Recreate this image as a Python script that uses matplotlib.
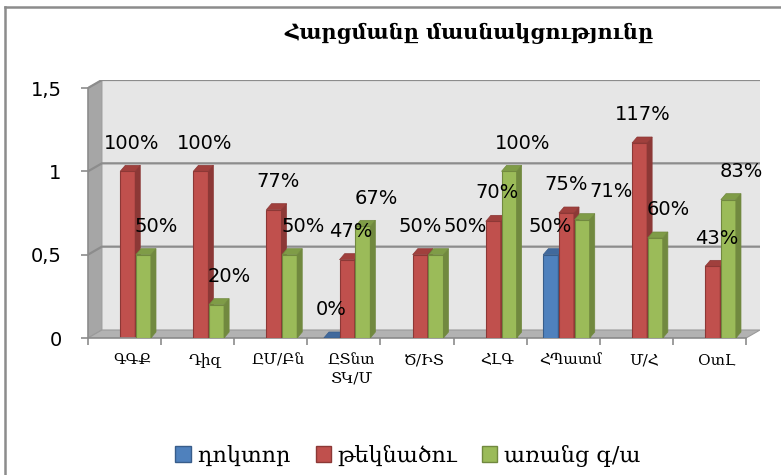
import numpy as np
import matplotlib
matplotlib.use("Agg")
import matplotlib.pyplot as plt
from matplotlib.patches import Polygon, Patch
from matplotlib.lines import Line2D

categories = ['ԳԳՔ', 'Դիզ', 'ԸՄ/Բն', 'ԸՏնտ\nՏԿ/Մ', 'Ծ/ԻՏ', 'ՀԼԳ', 'ՀՊատմ', 'Մ/Հ', 'ՕտԼ']
doctor = [np.nan, np.nan, np.nan, 0.0, np.nan, np.nan, 0.5, np.nan, np.nan]
candidate = [1.0, 1.0, 0.77, 0.47, 0.5, 0.7, 0.75, 1.17, 0.43]
no_degree = [0.5, 0.2, 0.5, 0.67, 0.5, 1.0, 0.71, 0.6, 0.83]
series_names = ['դոկտոր', 'թեկնածու', 'առանց գ/ա']
yticks = [0, 0.5, 1, 1.5]
ytick_labels = ['0', '0,5', '1', '1,5']
title = 'Հարցմանը մասնակցությունը'

front = ['#4f81bd', '#c0504d', '#9bbb59']
side = ['#385d8a', '#8c3836', '#71893f']
top_c = ['#41699c', '#a0403d', '#7f9c47']

serif = ['DejaVu Serif', 'DejaVu Sans']

W, H = 781, 475
fig = plt.figure(figsize=(W / 100, H / 100), dpi=100)

# wall depth (3d look) in data units
DX, DY = 0.19, 0.048
n = len(categories)
ax = fig.add_axes([88 / W, 1 - 338 / H, (760 - 88) / W, (338 - 80) / H])
ax.set_xlim(-0.5, n - 0.5 + DX)
ax.set_ylim(0, 1.5 + DY)

# back wall, left wall, floor
x0, x1 = -0.5, n - 0.5
ax.add_patch(Polygon([(x0 + DX, DY), (x1 + DX, DY), (x1 + DX, 1.5 + DY), (x0 + DX, 1.5 + DY)],
                     closed=True, fc='#e6e6e6', ec='none', zorder=0))
ax.add_patch(Polygon([(x0, 0), (x0 + DX, DY), (x0 + DX, 1.5 + DY), (x0, 1.5)],
                     closed=True, fc='#a6a6a6', ec='#9a9a9a', lw=0.8, zorder=0.5))
ax.add_patch(Polygon([(x0, 0), (x1, 0), (x1 + DX, DY), (x0 + DX, DY)],
                     closed=True, fc='#b2b2b2', ec='#9a9a9a', lw=0.8, zorder=0.5))
for v in yticks[1:]:
    ax.plot([x0, x0 + DX, x1 + DX], [v, v + DY, v + DY], color='#8c8c8c', lw=1.6, zorder=0.6)

# bars
offsets = [-0.275, -0.06, 0.155]
bw = 0.205
bdx, bdy = 0.07, 0.036
xs = np.arange(n)
all_vals = [doctor, candidate, no_degree]
z = 2
for i in range(n):
    for s, vals in enumerate(all_vals):
        v = vals[i]
        if np.isnan(v):
            continue
        left = xs[i] + offsets[s]
        ax.bar(left, v, width=bw, align='edge', color=front[s], edgecolor=side[s], lw=0.8, zorder=z)
        ax.add_patch(Polygon([(left + bw, 0), (left + bw + bdx, bdy), (left + bw + bdx, v + bdy), (left + bw, v)],
                             closed=True, fc=side[s], ec=side[s], lw=0.5, zorder=z))
        ax.add_patch(Polygon([(left, v), (left + bdx, v + bdy), (left + bw + bdx, v + bdy), (left + bw, v)],
                             closed=True, fc=top_c[s], ec=side[s], lw=0.5, zorder=z))
        z += 1

# value labels
lab_dx = [0.0, 0.05, 0.18]
for i in range(n):
    pos = {}
    for s, vals in enumerate(all_vals):
        v = vals[i]
        if np.isnan(v):
            continue
        pos[s] = [xs[i] + offsets[s] + bw / 2 + lab_dx[s], v + 0.17]
    if 1 in pos and 2 in pos and abs(pos[1][1] - pos[2][1]) < 0.08:
        pos[1][0] -= 0.05
        pos[2][0] += 0.22
    for s, (lx, ly) in pos.items():
        ax.text(lx, ly, f"{round(all_vals[s][i] * 100)}%", ha='center', va='center',
                fontsize=14, color='black', zorder=50)

# axes styling
for sp in ['top', 'right']:
    ax.spines[sp].set_visible(False)
ax.spines['left'].set_color('#8c8c8c')
ax.spines['bottom'].set_color('#8c8c8c')
ax.spines['left'].set_linewidth(1.2)
ax.spines['bottom'].set_linewidth(1.2)
ax.spines['left'].set_bounds(0, 1.5)
ax.spines['bottom'].set_bounds(x0, x1)
ax.set_yticks(yticks)
ax.set_yticklabels(ytick_labels, fontsize=14)
ax.tick_params(axis='y', length=5, width=1.2, color='#8c8c8c', pad=14)
ax.set_xticks(xs + 0.1)
ax.set_xticklabels(categories, fontsize=11, family=serif, linespacing=1.35)
ax.tick_params(axis='x', length=0, pad=11)
ax.set_xticks(np.arange(n + 1) - 0.5, minor=True)
ax.tick_params(axis='x', which='minor', length=5, width=1.2, color='#8c8c8c')

fig.text(469 / W, 1 - 33 / H, title, ha='center', va='center', fontsize=15,
         fontweight='bold', family=serif)

handles = [Patch(facecolor=front[k], edgecolor=side[k], label=series_names[k]) for k in range(3)]
fig.legend(handles=handles, loc='center', bbox_to_anchor=(408 / W, 1 - 456 / H), ncol=3,
           frameon=False, prop={'family': serif, 'size': 16}, handlelength=0.7,
           handleheight=0.7, handletextpad=0.3, columnspacing=1.1)

# outer chart frame (cut off at right and bottom)
fig.add_artist(Line2D([5 / W, 5 / W], [0, 1 - 7 / H], color='#8c8c8c', lw=1.8))
fig.add_artist(Line2D([5 / W, 1], [1 - 7 / H, 1 - 7 / H], color='#8c8c8c', lw=1.8))

fig.savefig('out.png', dpi=100)
